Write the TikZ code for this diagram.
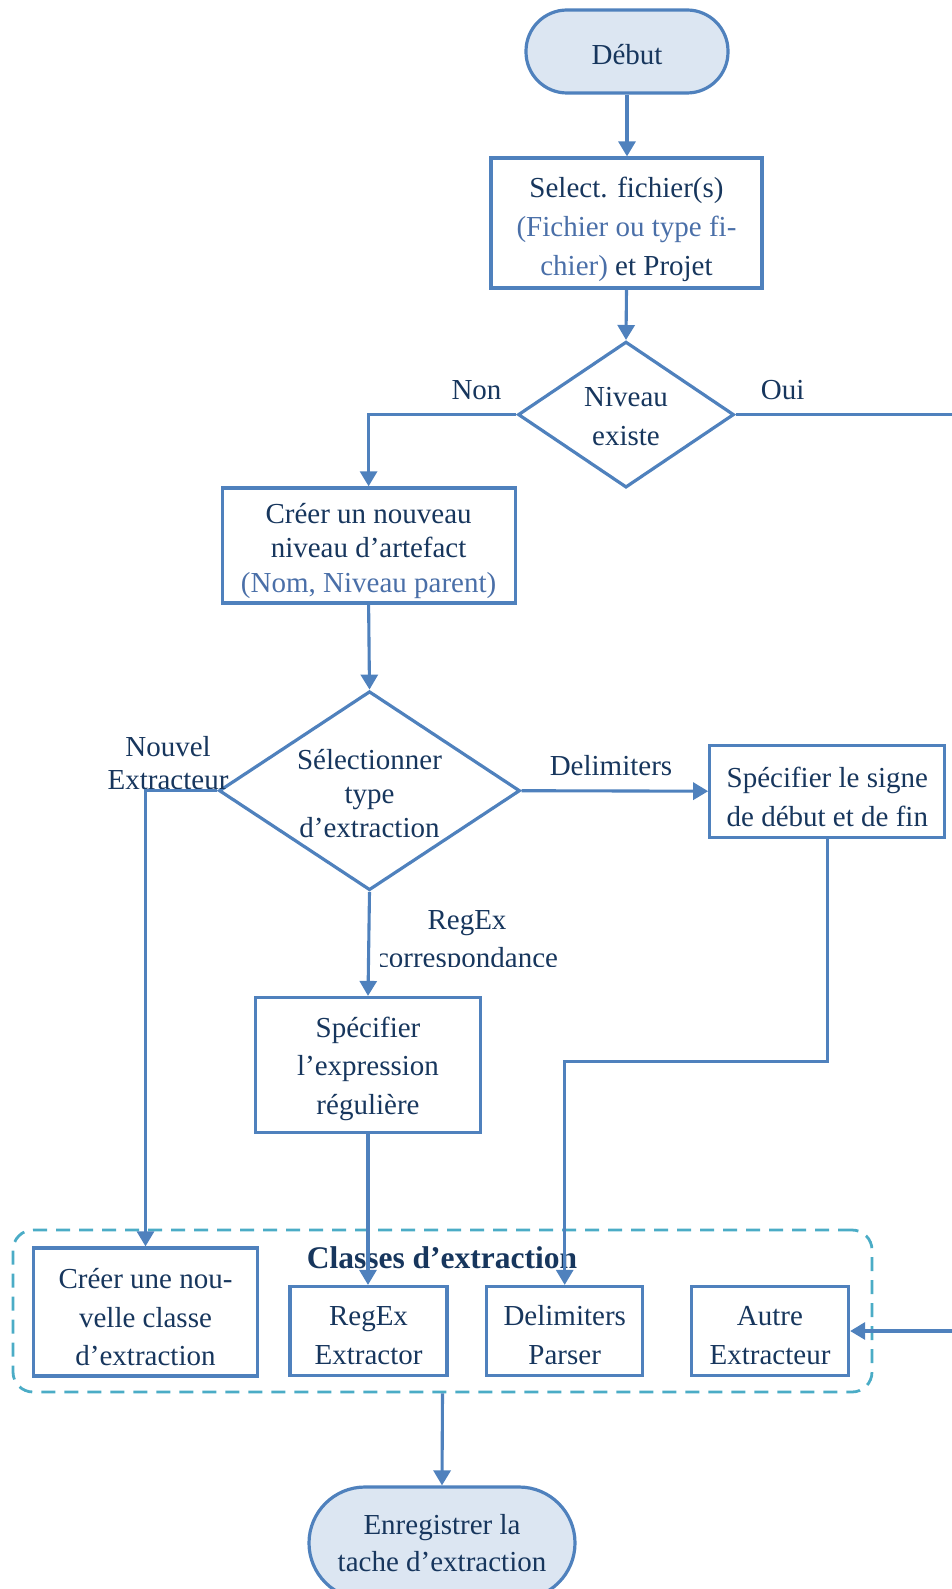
\documentclass[tikz,border=0pt]{standalone}
\usepackage{fontspec}
\setmainfont{Liberation Serif}
\usetikzlibrary{arrows.meta,shapes.geometric}
\definecolor{lineblue}{HTML}{4F81BD}
\definecolor{fillblue}{HTML}{DCE6F2}
\definecolor{textnavy}{HTML}{17365D}
\definecolor{textblue}{HTML}{4A6FA8}
\definecolor{groupteal}{HTML}{4BACC6}
% a tall strut on the first line sets the text a little below the box centre
\newcommand\topgap[1][31pt]{\rule{0pt}{#1}}
\begin{document}
\begin{tikzpicture}[x=1pt,y=-1pt,
  base/.style={font=\fontsize{29}{38.5}\selectfont, text=textnavy, align=center, inner sep=0pt},
  boxnode/.style={base, draw=lineblue, line width=3.2pt, rectangle},
  pill/.style={base, draw=lineblue, fill=fillblue, line width=3.2pt, rectangle, rounded corners=#1},
  decision/.style={draw=lineblue, line width=3.2pt, diamond, inner sep=0pt},
  lbl/.style={base},
  conn/.style={draw=lineblue, line width=3.1pt},
  arr/.style={conn, -{Triangle[length=15pt,width=17pt]}},
]
\useasboundingbox (0,0) rectangle (952,1589);

% start and file selection
\node[pill=41pt, minimum width=202pt, minimum height=83pt] (debut) at (627,51.5) {\topgap[26pt]Début};
\node[boxnode, minimum width=271pt, minimum height=130pt, font=\fontsize{29}{39}\selectfont] (select) at (626.5,223)
  {\topgap[33pt]Select. fichier(s)\\\textcolor{textblue}{(Fichier ou type fi-}\\\textcolor{textblue}{chier)} et Projet};

% level test
\node[decision, minimum width=216pt, minimum height=146pt] (niveau) at (626,414.6) {};
\node[lbl] (niveautxt) at (626,416.5) {Niveau\\existe};
\node[lbl] (non) at (476.5,390) {Non};
\node[lbl] (oui) at (782.6,390) {Oui};

\node[boxnode, minimum width=293pt, minimum height=115pt, font=\fontsize{29}{34.5}\selectfont] (creer) at (368.6,545.4)
  {\topgap Créer un nouveau\\niveau d’artefact\\\textcolor{textblue}{(Nom, Niveau parent)}};

% extraction type
\node[decision, minimum width=301pt, minimum height=199pt] (selection) at (369.5,790.7) {};
\node[lbl, font=\fontsize{29}{34}\selectfont] (selectiontxt) at (369.5,794) {Sélectionner\\type\\d’extraction};
\node[lbl, font=\fontsize{29}{33}\selectfont] (nouvel) at (168,763.5) {Nouvel\\Extracteur};
\node[lbl] (delimlbl) at (611,765.5) {Delimiters};
\begin{scope}
  \clip (380,895) rectangle (600,966);
  \node[lbl, font=\fontsize{29}{37.5}\selectfont] (regexlbl) at (467,942) {RegEx\\correspondance};
\end{scope}

\node[boxnode, minimum width=235pt, minimum height=92pt] (signe) at (827.3,791.2)
  {\topgap[32pt]Spécifier le signe\\de début et de fin};
\node[boxnode, minimum width=225pt, minimum height=135pt] (expr) at (368,1065)
  {\topgap[28pt]Spécifier\\l’expression\\régulière};

% extraction classes group
\node[draw=groupteal, dash pattern=on 14pt off 9pt, line width=2.8pt, rounded corners=20pt,
      minimum width=859pt, minimum height=162pt, inner sep=0pt] (group) at (442.5,1311) {};
\node[base, font=\bfseries\fontsize{31.5}{37}\selectfont] (title) at (442,1258) {Classes d’extraction};
\node[boxnode, minimum width=224pt, minimum height=128pt] (newclass) at (145.5,1312)
  {\topgap Créer une nou-\\velle classe\\d’extraction};
\node[boxnode, minimum width=157pt, minimum height=89pt] (regex) at (368.5,1331) {\topgap[28pt]RegEx\\Extractor};
\node[boxnode, minimum width=156pt, minimum height=89pt] (delim) at (564.7,1331) {\topgap[28pt]Delimiters\\Parser};
\node[boxnode, minimum width=157pt, minimum height=89pt] (autre) at (770,1331) {\topgap[28pt]Autre\\Extracteur};

% end
\node[pill=56pt, minimum width=266pt, minimum height=112pt, font=\fontsize{29}{37}\selectfont] (enreg) at (442,1543)
  {Enregistrer la\\tache d’extraction};

% connectors
\coordinate (ouiend) at (952,414.6);
\coordinate (autrein) at (952,1331);
\coordinate (turn) at (564.7,1061.5);
\draw[arr] (debut.south) -- (debut.south |- select.north);
\draw[arr] (select.south) -- (niveau.north);
\draw[arr] (niveau.west) -| (creer.north);
\draw[conn] (niveau.east) -- (ouiend);
\draw[arr] (creer.south) -- (selection.north);
\draw[arr] (selection.west) -| (newclass.north);
\draw[arr] (selection.east) -- (signe.west);
\draw[arr] (selection.south) -- (expr.north);
\draw[arr] (expr.south) -- (expr.south |- regex.north);
\draw[arr] (signe.south) |- (turn) -- (delim.north);
\draw[arr] (autrein) -- (autre.east);
\draw[arr] (group.south) -- (enreg.north);
\end{tikzpicture}
\end{document}
